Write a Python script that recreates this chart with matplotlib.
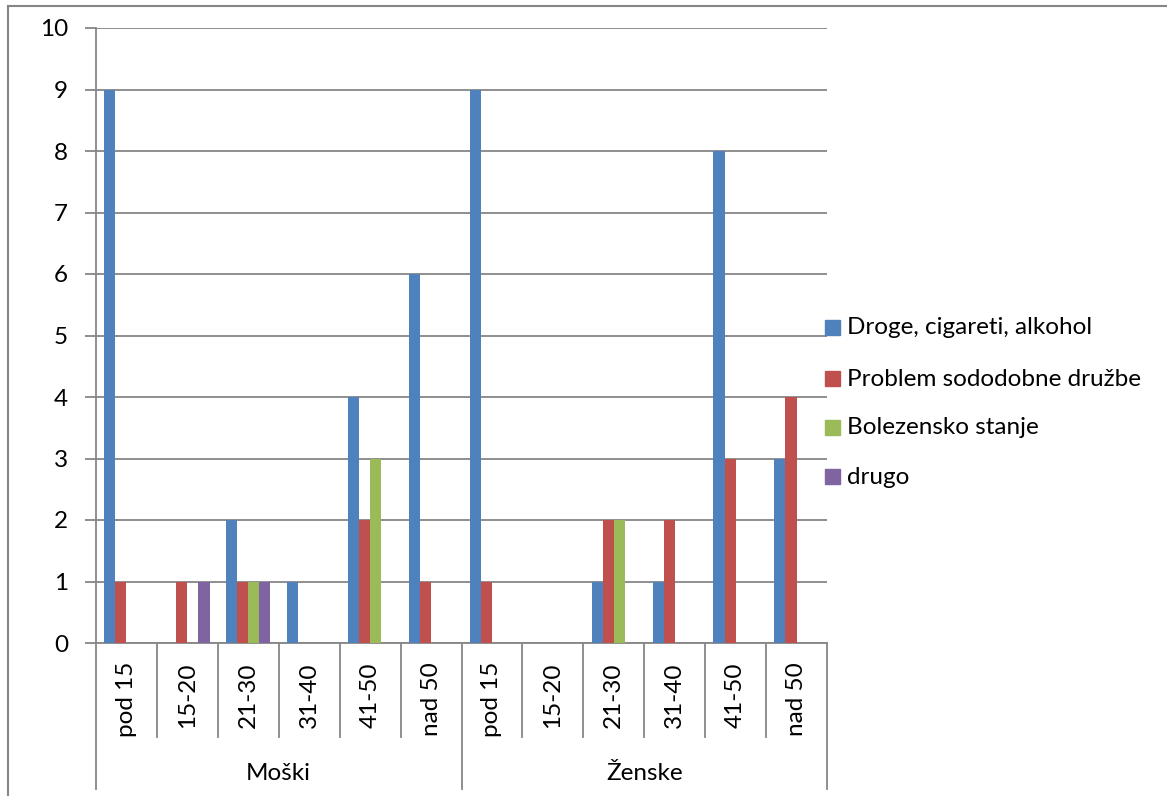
import matplotlib
matplotlib.use("Agg")
import matplotlib.pyplot as plt
import numpy as np
from matplotlib.lines import Line2D
from matplotlib.patches import Rectangle

plt.rcParams['font.family'] = ['Lato', 'DejaVu Sans']

groups = ["Moški", "Ženske"]
age_bands = ["pod 15", "15-20", "21-30", "31-40", "41-50", "nad 50"]
series_names = ["Droge, cigareti, alkohol", "Problem sododobne družbe",
                "Bolezensko stanje", "drugo"]
colors = ["#4F81BD", "#C0504D", "#9BBB59", "#8064A2"]

# values per series, Moški (6 bands) followed by Ženske (6 bands)
droge = [9, 0, 2, 1, 4, 6, 9, 0, 1, 1, 8, 3]
problem = [1, 1, 1, 0, 2, 1, 1, 0, 2, 2, 3, 4]
bolezen = [0, 0, 1, 0, 3, 0, 0, 0, 2, 0, 0, 0]
drugo = [0, 1, 1, 0, 0, 0, 0, 0, 0, 0, 0, 0]
series = [droge, problem, bolezen, drugo]

FS = 17.5
W, H = 1167, 796
fig = plt.figure(figsize=(W / 100, H / 100), dpi=100)

# plot area in pixels
x0, x1, y_top, y_bot = 96, 827, 28, 643
ax = fig.add_axes([x0 / W, (H - y_bot) / H, (x1 - x0) / W, (y_bot - y_top) / H])

grid_c = "#868686"
n = len(groups) * len(age_bands)
x = np.arange(n)
bw = 1 / 5.5
for i, (vals, c) in enumerate(zip(series, colors)):
    ax.bar(x + (i - 1.5) * bw, vals, width=bw, color=c, zorder=3,
           label=series_names[i])

ax.set_xlim(-0.5, n - 0.5)
ax.set_ylim(0, 10)
ax.set_yticks(range(0, 11))
ax.yaxis.grid(True, color=grid_c, linewidth=1.3, zorder=0)
ax.set_axisbelow(True)
for s in ["top", "right"]:
    ax.spines[s].set_visible(False)
for s in ["left", "bottom"]:
    ax.spines[s].set_color(grid_c)
    ax.spines[s].set_linewidth(1.3)
ax.tick_params(axis="y", length=8, width=1.3, color=grid_c, pad=12,
               labelsize=FS, labelcolor="black")
ax.set_xticks([])

# multi-level category axis drawn below the plot area
trans = ax.get_xaxis_transform()
inner_end = -(737 - y_bot) / (y_bot - y_top)
outer_end = -(789 - y_bot) / (y_bot - y_top)
for k in range(n + 1):
    xe = k - 0.5
    end = outer_end if k % len(age_bands) == 0 else inner_end
    ax.add_line(Line2D([xe, xe], [0, end], transform=trans, color=grid_c,
                       linewidth=1.3, clip_on=False))
label_top = -(662 - y_bot) / (y_bot - y_top)
for k in range(n):
    ax.text(k, label_top, age_bands[k % len(age_bands)], transform=trans,
            rotation=90, ha="center", va="top", fontsize=FS)
group_y = -(773 - y_bot) / (y_bot - y_top)
for g, name in enumerate(groups):
    cx = g * len(age_bands) + (len(age_bands) - 1) / 2
    ax.text(cx, group_y, name, transform=trans, ha="center", va="center",
            fontsize=FS)

# legend
leg_rows = [328, 379, 428, 477]
for name, c, yy in zip(series_names, colors, leg_rows):
    fig.patches.append(Rectangle((825 / W, (H - yy - 7) / H), 15 / W, 15 / H,
                                 transform=fig.transFigure, color=c))
    fig.text(847 / W, (H - yy) / H, name, ha="left", va="center", fontsize=FS)

# chart area border
fig.add_artist(Line2D([8 / W, 8 / W], [0, (H - 5.5) / H], color=grid_c,
                      linewidth=1.5, transform=fig.transFigure))
fig.add_artist(Line2D([8 / W, 1], [(H - 5.5) / H, (H - 5.5) / H], color=grid_c,
                      linewidth=1.5, transform=fig.transFigure))

fig.savefig("out.png", dpi=100, facecolor="white")
